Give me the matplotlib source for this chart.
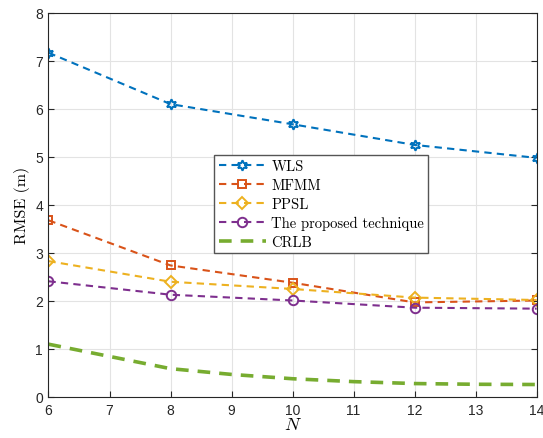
import matplotlib
matplotlib.use("Agg")
import matplotlib.pyplot as plt

N = [6, 8, 10, 12, 14]
wls = [7.17, 6.10, 5.68, 5.25, 4.98]
mfmm = [3.68, 2.74, 2.38, 1.97, 2.01]
ppsl = [2.83, 2.40, 2.25, 2.07, 2.02]
proposed = [2.41, 2.13, 2.01, 1.86, 1.84]
N_crlb = [6, 7, 8, 9, 10, 11, 12, 13, 14]
crlb = [1.10, 0.845, 0.59, 0.47, 0.38, 0.32, 0.28, 0.265, 0.26]

labels = ["WLS", "MFMM", "PPSL", "The proposed technique", "CRLB"]
colors = ["#0072BD", "#D95319", "#EDB120", "#7E2F8E", "#77AC30"]

plt.rcParams['mathtext.fontset'] = 'cm'
plt.rcParams['axes.unicode_minus'] = False

fig = plt.figure(figsize=(5.43, 4.39), dpi=100)
ax = fig.add_axes([0.0893, 0.0934, 0.899, 0.875])

dash = (3.5, 2.5)
lw = 1.5
ax.plot(N, wls, linestyle='--', dashes=dash, color=colors[0], lw=lw,
        marker=(6, 1, 0), markersize=7.5, mfc='none', mew=1.4, label=labels[0])
ax.plot(N, mfmm, linestyle='--', dashes=dash, color=colors[1], lw=lw,
        marker='s', markersize=5.8, mfc='none', mew=1.4, label=labels[1])
ax.plot(N, ppsl, linestyle='--', dashes=dash, color=colors[2], lw=lw,
        marker='D', markersize=6, mfc='none', mew=1.4, label=labels[2])
ax.plot(N, proposed, linestyle='--', dashes=dash, color=colors[3], lw=lw,
        marker='o', markersize=6.8, mfc='none', mew=1.4, label=labels[3])
ax.plot(N_crlb, crlb, linestyle='--', dashes=(3.5, 2.5), color=colors[4], lw=2.6,
        label=labels[4])

ax.set_xlim(6, 14)
ax.set_ylim(0, 8)
ax.set_xticks(range(6, 15))
ax.set_yticks(range(0, 9))
ax.grid(True, color='#e3e3e3', linewidth=0.8)
ax.set_axisbelow(True)
ax.tick_params(direction='in', length=4, width=0.8, colors='#262626',
               labelsize=10, top=False, right=True, pad=4)
for lab in ax.get_xticklabels() + ax.get_yticklabels():
    lab.set_fontfamily('Liberation Sans')
for s in ax.spines.values():
    s.set_color('#262626')
    s.set_linewidth(0.8)

ax.set_xlabel('$N$', fontsize=13, labelpad=-1)
ax.set_ylabel('RMSE (m)', fontsize=11.5, fontfamily='cmr10', labelpad=4)

leg = ax.legend(loc='upper left', bbox_to_anchor=(0.34, 0.63),
                prop={'family': 'cmr10', 'size': 10.5}, frameon=True,
                fancybox=False, edgecolor='#555555', framealpha=1,
                borderpad=0.3, labelspacing=0.35, handlelength=3.2,
                handletextpad=0.4, borderaxespad=0)
leg.get_frame().set_linewidth(1.0)

fig.savefig('out.png', dpi=100)
